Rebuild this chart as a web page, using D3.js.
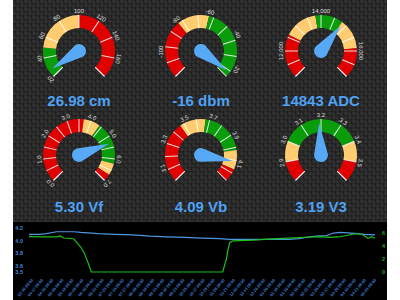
<!DOCTYPE html>
<html>
<head>
<meta charset="utf-8">
<script src="https://cdn.jsdelivr.net/npm/d3@7"></script>
<style>
  body { margin: 0; background: #fff; }
  svg { display: block; font-family: "Liberation Sans", Arial, sans-serif; }
</style>
</head>
<body>
<div id="container"></div>
<script>
/* DATA */
const gaugeUnits = ["cm", "dbm", "ADC", "Vf", "Vb", "V3"];
const gaugeValues = [26.98, -16, 14843, 5.30, 4.09, 3.19];
const gaugeValueText = ["26.98", "-16", "14843", "5.30", "4.09", "3.19"];
const gaugeMin = [20, -117, 11000, 0, 2.98, 2.8];
const gaugeMax = [180, -13, 17000, 7, 4.25, 3.6];
const gaugeLabels = [
  ["20", "40", "60", "80", "100", "120", "140", "160"],
  ["-100", "-80", "-60", "-40", "-20"],
  ["12,000", "14,000", "16,000"],
  ["0.0", "1.0", "2.0", "3.0", "4.0", "5.0", "6.0", "7.0"],
  ["3.1", "3.3", "3.5", "3.7", "3.9", "4.1"],
  ["2.9", "3.0", "3.1", "3.2", "3.3", "3.4", "3.5"]
];
const gaugeTickStep = [20, 10, 500, 0.5, 0.1, 0.1];
// colour bands: [from, to, kind]
const gaugeBands = [
  [[20, 50, "g"], [50, 100, "y"], [100, 180, "r"]],
  [[-117, -80, "r"], [-80, -60, "y"], [-60, -13, "g"]],
  [[11000, 12600, "r"], [12600, 13800, "y"], [13800, 14800, "g"], [14800, 15900, "y"], [15900, 17000, "r"]],
  [[0, 3.7, "r"], [3.7, 4.4, "y"], [4.4, 6.2, "g"], [6.2, 6.7, "y"], [6.7, 7, "r"]],
  [[2.98, 3.45, "r"], [3.45, 3.65, "y"], [3.65, 4.0, "g"], [4.0, 4.15, "y"], [4.15, 4.25, "r"]],
  [[2.8, 2.9, "r"], [2.9, 3.0, "y"], [3.0, 3.4, "g"], [3.4, 3.5, "y"], [3.5, 3.6, "r"]]
];

// history chart (time index 0..100 across the window)
const histTime = [0, 3, 5, 8, 10, 13, 15, 18, 20, 25, 30, 35, 40, 45, 50, 55, 58, 60, 65, 70, 75, 78, 80, 83, 86, 88, 90, 93, 95, 97, 100];
const histVb = [4.10, 4.10, 4.11, 4.14, 4.14, 4.14, 4.13, 4.12, 4.11, 4.10, 4.09, 4.07, 4.06, 4.05, 4.04, 4.03, 4.02, 4.02, 4.02, 4.02, 4.02, 4.03, 4.05, 4.07, 4.08, 4.12, 4.13, 4.12, 4.11, 4.10, 4.09];
const vfTime = [0, 5, 8, 9, 10, 12, 13, 14, 15, 16, 17, 17.5, 18, 50, 56, 56.5, 57, 57.5, 58, 59, 65, 70, 75, 80, 84, 87, 90, 91, 94, 96, 97, 98, 99, 100];
const histVf = [5.43, 5.40, 5.40, 5.54, 5.23, 5.15, 5.08, 4.4, 3.8, 2.9, 1.5, 0.8, 0, 0, 0, 1.0, 1.85, 3.4, 4.5, 4.8, 4.9, 5.1, 5.2, 5.35, 5.43, 5.34, 5.43, 5.54, 5.85, 5.85, 5.54, 5.2, 5.43, 5.2];
const leftTicks = [3.5, 3.6, 3.8, 4.0, 4.2];
const rightTicks = [0, 2, 4, 6];
const timeLabels = ["03-30 09:00", "04-17 09:00", "04-30 09:00", "05-06 09:00", "05-18 09:00", "05-29 09:00",
  "06-10 09:00", "06-22 09:00", "07-03 09:00", "07-15 09:00", "07-27 09:00", "08-08 09:00", "08-19 09:00",
  "08-31 09:00", "09-12 09:00", "09-23 09:00", "10-05 09:00", "10-17 09:00", "10-28 09:00", "11-09 09:00",
  "11-21 09:00", "12-02 09:00", "12-14 09:00", "12-26 09:00", "01-06 09:00", "01-18 09:00", "01-30 09:00",
  "02-10 09:00", "02-22 09:00", "03-06 09:00", "03-17 09:00", "03-29 09:00", "04-10 09:00", "04-21 09:00",
  "05-03 09:00"];

/* CONSTANTS */
const width = 400, height = 300;
const panel = { left: 13, right: 387 };
const colors = { g: "#0a9c0a", y: "#ffcc70", r: "#e00000" };
const outerR = 36, innerR = 23;
const centersX = [79, 201, 321], centersY = [51, 155];
const textY = [106, 212];

const svg = d3.select("#container").append("svg")
  .attr("width", width).attr("height", height);

/* carbon fibre background */
const defs = svg.append("defs");
const gv = defs.append("linearGradient").attr("id", "gv").attr("x1", 0).attr("y1", 0).attr("x2", 0).attr("y2", 1);
gv.append("stop").attr("offset", "0%").attr("stop-color", "#404040");
gv.append("stop").attr("offset", "100%").attr("stop-color", "#282828");
const gh = defs.append("linearGradient").attr("id", "gh").attr("x1", 0).attr("y1", 0).attr("x2", 1).attr("y2", 0);
gh.append("stop").attr("offset", "0%").attr("stop-color", "#3a3a3a");
gh.append("stop").attr("offset", "100%").attr("stop-color", "#252525");
const pat = defs.append("pattern").attr("id", "carbon").attr("patternUnits", "userSpaceOnUse")
  .attr("width", 8).attr("height", 8);
pat.append("rect").attr("width", 8).attr("height", 8).attr("fill", "#1e1e1e");
pat.append("rect").attr("x", 0.5).attr("y", 0.5).attr("width", 3).attr("height", 3).attr("fill", "url(#gv)");
pat.append("rect").attr("x", 4.5).attr("y", 4.5).attr("width", 3).attr("height", 3).attr("fill", "url(#gv)");
pat.append("rect").attr("x", 4.5).attr("y", 0.5).attr("width", 3).attr("height", 3).attr("fill", "url(#gh)");
pat.append("rect").attr("x", 0.5).attr("y", 4.5).attr("width", 3).attr("height", 3).attr("fill", "url(#gh)");

svg.append("rect").attr("x", panel.left).attr("y", 0)
  .attr("width", panel.right - panel.left).attr("height", height)
  .attr("fill", "url(#carbon)");

/* GAUGES */
const toRad = deg => deg * Math.PI / 180;

gaugeUnits.forEach((unit, i) => {
  const cx = centersX[i % 3], cy = centersY[Math.floor(i / 3)];
  const angle = d3.scaleLinear().domain([gaugeMin[i], gaugeMax[i]]).range([-135, 135]);
  const g = svg.append("g").attr("transform", `translate(${cx},${cy})`);

  const arc = d3.arc().innerRadius(innerR).outerRadius(outerR);
  g.selectAll("path.band")
    .data(gaugeBands[i])
    .join("path")
    .attr("class", "band")
    .attr("d", d => arc({ startAngle: toRad(angle(d[0])), endAngle: toRad(angle(d[1])) }))
    .attr("fill", d => colors[d[2]]);

  // tick lines across the band
  const ticks = d3.range(gaugeMin[i], gaugeMax[i] + gaugeTickStep[i] * 0.01, gaugeTickStep[i])
    .concat([gaugeMin[i], gaugeMax[i]]);
  g.selectAll("line.tick")
    .data(ticks)
    .join("line")
    .attr("class", "tick")
    .attr("transform", d => `rotate(${angle(d)})`)
    .attr("y1", -innerR).attr("y2", -outerR)
    .attr("stroke", "rgba(255,255,255,0.85)").attr("stroke-width", 1);

  // labels outside the ring
  g.selectAll("text.lab")
    .data(gaugeLabels[i])
    .join("text")
    .attr("class", "lab")
    .attr("transform", d => `rotate(${angle(+d.replace(",", ""))}) translate(0,${-outerR - 2})`)
    .attr("text-anchor", "middle")
    .attr("font-size", 6)
    .attr("fill", "#dddddd")
    .text(d => d);

  // needle
  const a = angle(gaugeValues[i]);
  g.append("path")
    .attr("transform", `rotate(${a})`)
    .attr("d", `M -7 0 L 0 -32 L 7 0 A 7 7 0 0 1 -7 0 Z`)
    .attr("fill", "#58a9f5");

  svg.append("text")
    .attr("x", cx).attr("y", textY[Math.floor(i / 3)])
    .attr("text-anchor", "middle")
    .attr("font-size", 15).attr("font-weight", "bold")
    .attr("fill", "#4ea1f3")
    .text(gaugeValueText[i] + " " + unit);
});

/* HISTORY CHART */
const chart = { top: 222, bottom: 300 };
svg.append("rect").attr("x", panel.left).attr("y", chart.top)
  .attr("width", panel.right - panel.left).attr("height", chart.bottom - chart.top)
  .attr("fill", "#000");

const xScale = d3.scaleLinear().domain([0, 100]).range([29, 375]);
const yLeft = d3.scaleLinear().domain([3.5, 4.2]).range([272, 228]);
const yRight = d3.scaleLinear().domain([0, 6]).range([272, 233]);

const leftAxis = svg.append("g").attr("transform", "translate(26,0)")
  .call(d3.axisLeft(yLeft).tickValues(leftTicks).tickSize(0).tickFormat(d3.format(".1f")));
leftAxis.select(".domain").remove();
leftAxis.selectAll("text").attr("fill", "#3f86d6").attr("font-size", 5.5).attr("font-weight", "bold");

const rightAxis = svg.append("g").attr("transform", "translate(379,0)")
  .call(d3.axisRight(yRight).tickValues(rightTicks).tickSize(0).tickFormat(d3.format("d")));
rightAxis.select(".domain").remove();
rightAxis.selectAll("text").attr("fill", "#19b019").attr("font-size", 5.5).attr("font-weight", "bold");

const xAxis = svg.append("g").attr("transform", "translate(0,277)")
  .call(d3.axisBottom(d3.scalePoint().domain(timeLabels).range([29, 372])).tickSize(0));
xAxis.select(".domain").remove();
xAxis.selectAll("text")
  .attr("fill", "#3f7fd0").attr("font-size", 4).attr("font-weight", "bold")
  .attr("text-anchor", "end")
  .attr("transform", "rotate(-50)")
  .attr("dx", 0).attr("dy", 2);

svg.append("path")
  .datum(histTime.map((t, k) => [t, histVb[k]]))
  .attr("fill", "none").attr("stroke", "#4f95e0").attr("stroke-width", 1.2)
  .attr("d", d3.line().x(d => xScale(d[0])).y(d => yLeft(d[1])));

svg.append("path")
  .datum(vfTime.map((t, k) => [t, histVf[k]]))
  .attr("fill", "none").attr("stroke", "#19c019").attr("stroke-width", 1.2)
  .attr("d", d3.line().x(d => xScale(d[0])).y(d => yRight(d[1])));
</script>
</body>
</html>
